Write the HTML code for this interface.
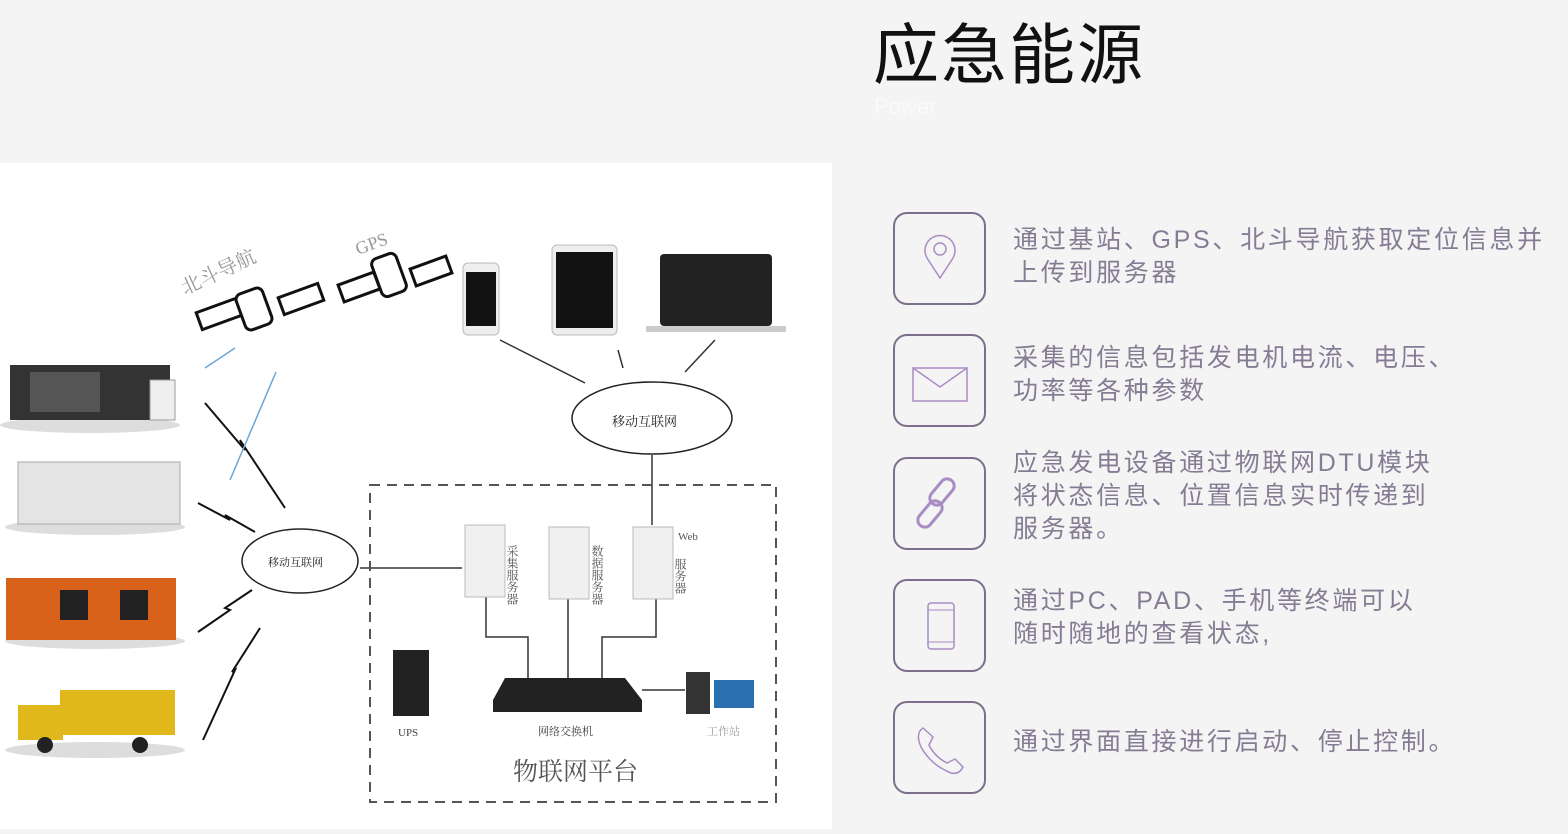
<!DOCTYPE html>
<html><head><meta charset="utf-8"><style>
body{margin:0;width:1568px;height:829px;background:#f4f4f4;position:relative;overflow:hidden;font-family:"Liberation Sans","Noto Sans CJK SC",sans-serif}
.t{position:absolute;left:873px;top:2px;font-size:66px;color:#111;letter-spacing:2px}
.p{position:absolute;left:874px;top:94px;font-size:22px;color:#fafafa}
.box{position:absolute;left:893px;width:89px;height:89px;border:2px solid #7d6f8c;border-radius:14px}
.box svg{position:absolute;left:0;top:0}
.tx{position:absolute;left:1013px;font-size:25px;line-height:33px;color:#857c94;letter-spacing:2.7px}
.panel{position:absolute;left:0;top:163px;width:832px;height:666px;background:#fff}
</style></head><body>
<div class="t">应急能源</div><div class="p">Power</div>
<div class="panel">
<svg width="832" height="666" viewBox="0 163 832 666" font-family="Liberation Serif,Noto Serif CJK SC,serif">
<text x="185" y="295" font-size="20" fill="#999" transform="rotate(-25 185 295)">北斗导航</text>
<text x="358" y="255" font-size="18" fill="#999" transform="rotate(-20 358 255)">GPS</text>
<g stroke="#111" stroke-width="3" fill="#fff">
<rect x="198" y="305" width="42" height="18" transform="rotate(-20 219 314)"/>
<rect x="280" y="290" width="42" height="18" transform="rotate(-20 301 299)"/>
<rect x="240" y="290" width="28" height="38" rx="6" transform="rotate(-20 254 309)"/>
<rect x="340" y="278" width="38" height="18" transform="rotate(-20 359 287)"/>
<rect x="412" y="262" width="38" height="18" transform="rotate(-20 431 271)"/>
<rect x="376" y="255" width="26" height="40" rx="6" transform="rotate(-20 389 275)"/>
</g>
<rect x="463" y="263" width="36" height="72" rx="5" fill="#eee" stroke="#bbb"/><rect x="466" y="272" width="30" height="54" fill="#111"/>
<rect x="552" y="245" width="65" height="90" rx="5" fill="#eee" stroke="#bbb"/><rect x="556" y="252" width="57" height="76" fill="#111"/>
<rect x="660" y="254" width="112" height="72" rx="4" fill="#222"/><rect x="646" y="326" width="140" height="6" fill="#ccc"/>
<g stroke="#333" stroke-width="1.5" fill="none">
<line x1="500" y1="340" x2="585" y2="383"/><line x1="618" y1="350" x2="623" y2="368"/><line x1="715" y1="340" x2="685" y2="372"/>
<line x1="652" y1="455" x2="652" y2="525"/>
<line x1="360" y1="568" x2="462" y2="568"/>
<path d="M486 597V637H528V680M568 597V680M656 597V637H602V680M642 690H685"/>
</g>
<g fill="#fff" stroke="#222" stroke-width="1.5">
<ellipse cx="652" cy="418" rx="80" ry="36"/>
<ellipse cx="300" cy="561" rx="58" ry="32"/>
</g>
<text x="612" y="426" font-size="13" fill="#222">移动互联网</text>
<text x="268" y="566" font-size="11" fill="#222">移动互联网</text>
<g stroke="#111" stroke-width="2" fill="none">
<path d="M205 403L245 450L240 440L285 508"/><path d="M198 503L230 520L225 515L255 532"/>
<path d="M198 632L230 610L225 608L252 590"/><path d="M203 740L235 670L232 672L260 628"/>
</g>
<g stroke="#6aa7d8" stroke-width="1.5"><line x1="205" y1="368" x2="235" y2="348"/><line x1="230" y1="480" x2="276" y2="372"/></g>
<ellipse cx="90" cy="425" rx="90" ry="8" fill="#ddd"/>
<rect x="10" y="365" width="160" height="55" fill="#333"/><rect x="30" y="372" width="70" height="40" fill="#555"/><rect x="150" y="380" width="25" height="40" fill="#eee" stroke="#999"/>
<ellipse cx="95" cy="527" rx="90" ry="8" fill="#ddd"/>
<rect x="18" y="462" width="162" height="62" fill="#e4e4e4" stroke="#aaa"/>
<ellipse cx="95" cy="641" rx="90" ry="8" fill="#ddd"/>
<rect x="6" y="578" width="170" height="62" fill="#d9621b"/><rect x="60" y="590" width="28" height="30" fill="#222"/><rect x="120" y="590" width="28" height="30" fill="#222"/>
<ellipse cx="95" cy="750" rx="90" ry="8" fill="#ddd"/>
<rect x="60" y="690" width="115" height="45" fill="#e0b81c"/><rect x="18" y="705" width="45" height="35" fill="#e0b81c"/><circle cx="45" cy="745" r="8" fill="#222"/><circle cx="140" cy="745" r="8" fill="#222"/>
<rect x="370" y="485" width="406" height="317" fill="none" stroke="#555" stroke-width="2" stroke-dasharray="10 7"/>
<g fill="#f0f0f0" stroke="#bbb"><rect x="465" y="525" width="40" height="72"/><rect x="549" y="527" width="40" height="72"/><rect x="633" y="527" width="40" height="72"/></g>
<g font-size="12" fill="#555"><text x="512" y="545" writing-mode="tb">采集服务器</text><text x="597" y="545" writing-mode="tb">数据服务器</text><text x="678" y="540" font-size="11">Web</text><text x="680" y="558" writing-mode="tb">服务器</text></g>
<rect x="393" y="650" width="36" height="66" fill="#222"/><text x="398" y="736" font-size="11" fill="#444">UPS</text>
<polygon points="505,678 625,678 642,700 642,712 493,712 493,700" fill="#222"/>
<text x="538" y="735" font-size="11" fill="#444">网络交换机</text>
<rect x="686" y="672" width="24" height="42" fill="#333"/><rect x="714" y="680" width="40" height="28" fill="#2a6fb0"/>
<text x="707" y="735" font-size="11" fill="#999">工作站</text>
<text x="513" y="780" font-size="25" fill="#555">物联网平台</text>
</svg></div>

<div class="box" style="top:212px"><svg width="89" height="89"><path d="M45 64L32 44A15 15 0 1 1 58 44Z" fill="none" stroke="#a98cc4" stroke-width="1.5"/><circle cx="45" cy="35" r="6" fill="none" stroke="#a98cc4" stroke-width="1.5"/></svg></div>
<div class="box" style="top:334px"><svg width="89" height="89"><rect x="18" y="32" width="54" height="33" fill="none" stroke="#a98cc4" stroke-width="1.5"/><path d="M18 32L45 51L72 32" fill="none" stroke="#a98cc4" stroke-width="1.5"/></svg></div>
<div class="box" style="top:457px"><svg width="89" height="89"><g fill="none" stroke="#a98cc4" stroke-width="3"><rect x="40" y="18" width="14" height="30" rx="7" transform="rotate(40 47 33)"/><rect x="28" y="40" width="14" height="30" rx="7" transform="rotate(40 35 55)"/></g></svg></div>
<div class="box" style="top:579px"><svg width="89" height="89"><rect x="33" y="22" width="26" height="46" rx="3" fill="none" stroke="#a98cc4" stroke-width="1.5"/><line x1="33" y1="29" x2="59" y2="29" stroke="#a98cc4"/><line x1="33" y1="61" x2="59" y2="61" stroke="#a98cc4"/></svg></div>
<div class="box" style="top:701px"><svg width="89" height="89"><path d="M28 25Q20 30 26 44Q36 62 56 70Q64 72 68 64L60 56L52 60Q40 54 34 42L38 34Z" fill="none" stroke="#a98cc4" stroke-width="1.5"/></svg></div>

<div class="tx" style="top:224px">通过基站、GPS、北斗导航获取定位信息并<br>上传到服务器</div>
<div class="tx" style="top:342px">采集的信息包括发电机电流、电压、<br>功率等各种参数</div>
<div class="tx" style="top:447px">应急发电设备通过物联网DTU模块<br>将状态信息、位置信息实时传递到<br>服务器。</div>
<div class="tx" style="top:585px">通过PC、PAD、手机等终端可以<br>随时随地的查看状态,</div>
<div class="tx" style="top:726px">通过界面直接进行启动、停止控制。</div>
</body></html>
